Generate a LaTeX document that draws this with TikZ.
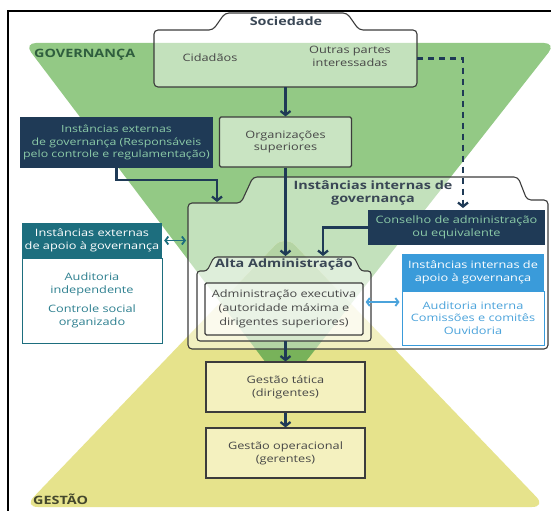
\documentclass[tikz,border=0pt]{standalone}
\usepackage{fontspec}
\setmainfont{Open Sans}[FakeStretch=1.25]
\usetikzlibrary{arrows.meta}
\definecolor{gov}{HTML}{93C985}
\definecolor{gest}{HTML}{E6E38C}
\definecolor{ovl}{HTML}{78B25A}
\definecolor{navy}{HTML}{1F3A56}
\definecolor{navytxt}{HTML}{8CCBA8}
\definecolor{mteal}{HTML}{1D6E7E}
\definecolor{mtealtxt}{HTML}{2E8090}
\definecolor{mblue}{HTML}{3A9BDA}
\definecolor{mbluetxt}{HTML}{4BA3DB}
\definecolor{boxln}{HTML}{3C3C3C}
\definecolor{txt}{HTML}{474747}
\definecolor{ttl}{HTML}{3A4755}
\definecolor{govtxt}{HTML}{2F5E3E}
\definecolor{gestxt}{HTML}{45482D}
\definecolor{gestbox}{HTML}{F4F1BF}
\newcommand\myreg{\fontsize{10.2}{12.8}\selectfont}
\newcommand\mysmall{\fontsize{9.9}{12.6}\selectfont}
\newcommand\mybold{\bfseries\fontsize{11.5}{13}\selectfont}
\begin{document}
\begin{tikzpicture}[x=1pt,y=-1pt,
  lbox/.style={draw=boxln, line width=1.1pt, fill=white, fill opacity=0.5, text opacity=1, rounded corners=1.5pt, align=center, text=txt, font=\myreg, inner sep=0pt},
  gbox/.style={draw=boxln, line width=1.1pt, fill=gestbox, align=center, text=txt, font=\myreg, inner sep=0pt, minimum width=159, minimum height=50},
  navybox/.style={fill=navy, text=navytxt, align=center, font=\myreg, inner sep=0pt},
  txtf/.style={font=\myreg, text=txt, align=center, inner sep=0pt},
  ttlf/.style={font=\mybold, text=ttl, align=center, inner sep=0pt},
  folder/.style={draw=boxln, line width=1.1pt, fill=white, fill opacity=0.45, rounded corners=4pt},
  arr/.style={draw=navy, line width=2.3pt, -{Straight Barb[length=4pt,width=10pt]}},
  dasharr/.style={draw=navy, line width=2.3pt, dash pattern=on 6pt off 5pt, -{Straight Barb[length=4pt,width=10pt]}},
  darr/.style={line width=1.8pt, {Straight Barb[length=3pt,width=8pt]}-{Straight Barb[length=3pt,width=8pt]}, shorten <=2pt, shorten >=2pt},
]
\useasboundingbox (0,0) rectangle (551,511);
\clip (0,0) rectangle (551,511);
\fill[white] (0,0) rectangle (551,511);
% background shapes
\fill[gov, rounded corners=12pt] (24,43) -- (556,43) -- (285,388) -- cycle;
\fill[gest, rounded corners=14pt] (285,235) -- (546,507) -- (24,507) -- cycle;
\begin{scope}
  \clip[rounded corners=14pt] (285,235) -- (546,507) -- (24,507) -- cycle;
  \fill[ovl, rounded corners=12pt] (24,43) -- (556,43) -- (285,388) -- cycle;
\end{scope}
% frame
\draw[line width=1.8pt] (551,11) -- (8,11) -- (8,511);
% labels
\node[font=\mybold, text=govtxt, anchor=west, inner sep=0pt] (govL) at (34,55) {GOVERNANÇA};
\node[font=\mybold, text=gestxt, anchor=west, inner sep=0pt] (gesL) at (33,499) {GESTÃO};
% Sociedade
\draw[folder] (154,87) -- (154,30) -- (213,30) -- (225,13) -- (347,13) -- (359,30) -- (417,30) -- (417,87) -- cycle;
\node[ttlf] (socT) at (286,21.5) {Sociedade};
\node[minimum width=263, minimum height=57, inner sep=0pt] (soc) at (285.5,58.5) {};
\node[txtf] (cid) at (210,58) {Cidadãos};
\node[txtf] (out) at (350,56) {Outras partes\\interessadas};
% Organizacoes
\node[lbox, minimum width=132, minimum height=50] (org) at (285.5,142) {Organizações\\superiores};
% externas governanca
\node[navybox, font=\mysmall, minimum width=193, minimum height=51] (extg) at (116.5,142.5) {Instâncias externas\\de governança (Responsáveis\\pelo controle e regulamentação)};
% internal folder
\draw[folder] (188,349) -- (188,203) -- (241,203) -- (253,177) -- (518,177) -- (527,200) -- (548,200) -- (548,349) -- cycle;
\node[ttlf] (intT) at (373,193) {Instâncias internas de\\governança};
% Conselho
\node[navybox, minimum width=177, minimum height=35] (cons) at (456.5,227.5) {Conselho de administração\\ou equivalente};
% Alta administracao
\draw[folder, rounded corners=3pt] (197,341) -- (197,271) -- (207,271) -- (214,257) -- (354,257) -- (361,271) -- (371,271) -- (371,341) -- cycle;
\node[ttlf] (altaT) at (284,265) {Alta Administração};
\node[lbox, line width=1.3pt, minimum width=158, minimum height=52, font=\fontsize{10.2}{14}\selectfont] (adm) at (284,309) {Administração executiva\\(autoridade máxima e\\dirigentes superiores)};
% externas apoio
\node[fill=mteal, text=white, font=\myreg, align=center, inner sep=0pt, minimum width=140, minimum height=35] (eaH) at (92,240.5) {Instâncias externas\\de apoio à governança};
\node[draw=mteal, line width=1pt, fill=white, text=mtealtxt, font=\myreg, align=center, inner sep=0pt, minimum width=140, minimum height=85] (eaB) at (92,300.5) {Auditoria\\independente\\[6pt]Controle social\\organizado};
% internas apoio
\node[fill=mblue, text=white, font=\myreg, align=center, inner sep=0pt, minimum width=142, minimum height=37] (iaH) at (473,272.5) {Instâncias internas de\\apoio à governança};
\node[draw=mblue, line width=1pt, fill=white, text=mbluetxt, font=\myreg, align=center, inner sep=0pt, minimum width=142, minimum height=54] (iaB) at (473,318) {Auditoria interna\\Comissões e comitês\\Ouvidoria};
% gestao
\node[gbox] (gt) at (285.5,387) {Gestão tática\\(dirigentes)};
\node[gbox] (go) at (285.5,453) {Gestão operacional\\(gerentes)};
% connectors
\coordinate (intIn) at (217,202);
\coordinate (altaIn1) at (285.5,256);
\coordinate (altaIn2) at (323,256);
\coordinate (dashEnd) at (463,208);
\coordinate (altaOut) at (285.5,341);
\coordinate (intL) at (188,240.5);
\draw[arr] (soc.south) -- (org.north);
\draw[arr] (extg.south) -- ++(0,12) -| (intIn);
\draw[arr] (org.south) -- (altaIn1);
\draw[arr] (cons.west) -| (altaIn2);
\draw[dasharr] (soc.east) -| (dashEnd);
\draw[arr] (altaOut) -- (gt.north);
\draw[arr] (gt.south) -- (go.north);
\draw[darr, draw=mteal] (eaH.east) -- (intL);
\draw[darr, draw=mbluetxt] ([yshift=7pt]adm.east) -- ([yshift=7pt]adm.east -| iaB.west);
\end{tikzpicture}
\end{document}
